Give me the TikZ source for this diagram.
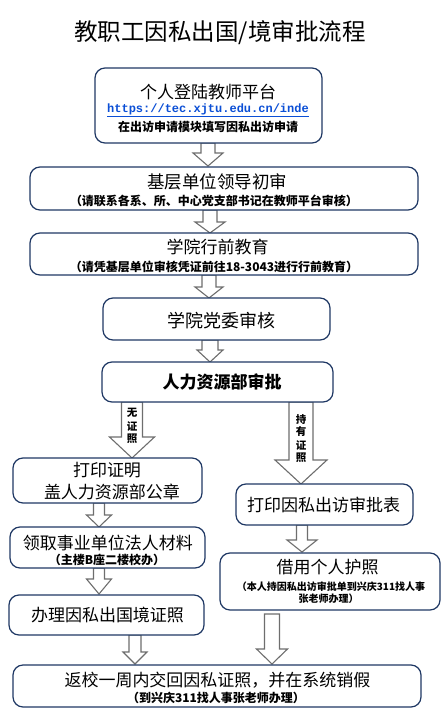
\documentclass[tikz,border=0pt]{standalone}
\usepackage{fontspec}
\setmainfont{Noto Sans CJK SC}
\newfontfamily\urlfont{Liberation Mono}
\definecolor{boxline}{HTML}{1F3864}
\definecolor{arrline}{HTML}{6E6E6E}
\definecolor{urlblue}{HTML}{0B4FD6}
\newcommand\fs[1]{\fontsize{#1}{#1}\selectfont}
% block arrow: cx, ytop, yhead, ytip, shaft half width, head half width
\newcommand\blk[6]{%
  \draw[blkarrow] ({#1-#5},#2) -- ({#1-#5},#3) -- ({#1-#6},#3) -- (#1,#4)
    -- ({#1+#6},#3) -- ({#1+#5},#3) -- ({#1+#5},#2) -- cycle;}
\begin{document}
\begin{tikzpicture}[x=1pt,y=-1pt,
  box/.style={draw=boxline,line width=1.2pt,rounded corners=10pt,fill=white,
    inner sep=0pt,outer sep=0pt},
  blkarrow/.style={draw=arrline,line width=1.1pt,fill=white,line join=miter},
  ttl/.style={inner sep=0pt,font=\fs{17}},
  sub/.style={inner sep=0pt,font=\fs{12}\bfseries},
  small/.style={inner sep=0pt,font=\fs{10}\bfseries},
  lab/.style={inner sep=0pt,font=\fs{10.5}\bfseries}]
\useasboundingbox[fill=white] (0,0) rectangle (447,716);

\node[inner sep=0pt,font=\fs{23.5}] (title) at (220,33) {教职工因私出国/境审批流程};

% arrows (drawn first)
\blk{208}{143}{153}{166}{7}{15}
\blk{210}{210}{222}{233}{7}{15}
\blk{209}{275}{287}{298}{7}{14}
\blk{210}{340}{350}{362}{8}{13}
\blk{132}{402}{437}{458}{10.5}{22.5}
\blk{301}{402}{460}{484}{12}{26}
\blk{99}{503}{515}{527}{5.5}{12.5}
\blk{99}{568}{579}{594}{5.5}{12.5}
\blk{135}{635}{652}{664}{6}{12}
\blk{302}{525}{540}{552}{5.5}{15}
\blk{272}{614}{649}{664}{7.5}{15.5}

% boxes
\node[box,minimum width=227pt,minimum height=75pt] (b1) at (208.5,105.5) {};
\node[box,minimum width=388pt,minimum height=43pt] (b2) at (224,188.5) {};
\node[box,minimum width=388pt,minimum height=42pt] (b3) at (224,254) {};
\node[box,minimum width=227pt,minimum height=42pt] (b4) at (216.5,319) {};
\node[box,minimum width=231pt,minimum height=40pt] (b5) at (217.5,382) {};
\node[box,minimum width=189pt,minimum height=45pt] (b6) at (107.5,480.5) {};
\node[box,minimum width=195pt,minimum height=41pt] (b7) at (107.5,547.5) {};
\node[box,minimum width=195pt,minimum height=40pt] (b8) at (106.5,615) {};
\node[box,minimum width=177pt,minimum height=41pt] (b9) at (324.5,504.5) {};
\node[box,minimum width=220pt,minimum height=57pt] (b10) at (330,581.5) {};
\node[box,minimum width=408pt,minimum height=42pt] (b11) at (217,686) {};

% texts
\node[ttl] (t1) at (208,92) {个人登陆教师平台};
\node[inner sep=0pt,font=\fs{12}\urlfont\bfseries,text=urlblue] (t1u) at (208,110)
  {\underline{https://tec.xjtu.edu.cn/inde}};
\node[sub] (t1s) at (208,127) {在出访申请模块填写因私出访申请};

\node[ttl,font=\fs{17.5}] (t2) at (217,182) {基层单位领导初审};
\node[sub] (t2s) at (214,201) {（请联系各系、所、中心党支部书记在教师平台审核）};

\node[ttl] (t3) at (217.5,247) {学院行前教育};
\node[sub] (t3s) at (214,267) {（请凭基层单位审核凭证前往18-3043进行行前教育）};

\node[ttl,font=\fs{18}] (t4) at (221,321) {学院党委审核};
\node[ttl,font=\fs{17}\bfseries] (t5) at (222,382) {人力资源部审批};

\node[lab] (l1a) at (132,413) {无};
\node[lab] (l1b) at (132,426) {证};
\node[lab] (l1c) at (132,439) {照};
\node[lab] (l2a) at (301,420) {持};
\node[lab] (l2b) at (301,432) {有};
\node[lab] (l2c) at (301,445) {证};
\node[lab] (l2d) at (301,458) {照};

\node[ttl] (t6a) at (107,470) {打印证明};
\node[ttl] (t6b) at (112,492) {盖人力资源部公章};

\node[ttl] (t7) at (108,543) {领取事业单位法人材料};
\node[sub] (t7s) at (107,560) {（主楼B座二楼校办）};

\node[ttl] (t8) at (107.5,615) {办理因私出国境证照};

\node[ttl] (t9) at (323.5,505) {打印因私出访审批表};

\node[ttl] (t10) at (327.5,567) {借用个人护照};
\node[small] (t10s) at (331,587) {（本人持因私出访审批单到兴庆311找人事};
\node[small] (t10t) at (328.5,599) {张老师办理）};

\node[ttl] (t11) at (217.5,680) {返校一周内交回因私证照，并在系统销假};
\node[sub] (t11s) at (216,698) {（到兴庆311找人事张老师办理）};
\end{tikzpicture}
\end{document}
